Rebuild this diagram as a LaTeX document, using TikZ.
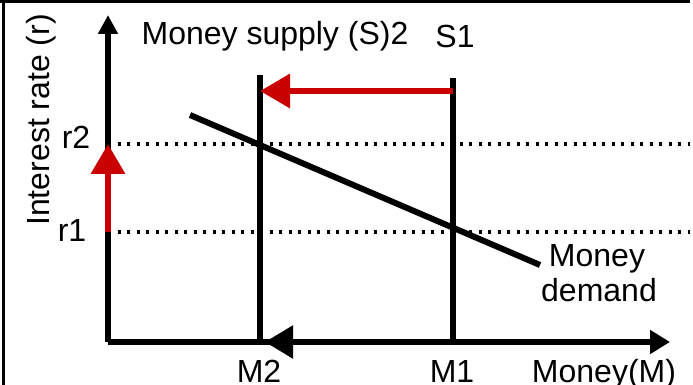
\documentclass[tikz,border=0pt]{standalone}
\usepackage{fontspec}
\setmainfont{Liberation Sans}
\usetikzlibrary{arrows.meta,positioning}

\definecolor{shiftred}{RGB}{200,0,0}

\begin{document}
\begin{tikzpicture}[x=1pt,y=1pt,>=Stealth,
  font=\fontsize{32pt}{38pt}\selectfont,
  axis/.style={line width=5.5pt},
  supply/.style={line width=6pt},
  level/.style={line width=3.3pt,dash pattern=on 3.3pt off 6.2pt},
  redshift/.style={line width=6.5pt,shiftred,-{Triangle[length=30pt,width=33pt]}},
  lbl/.style={inner sep=0pt,anchor=base}]

\useasboundingbox (0,0) rectangle (693,385);

% Define parameters
\def\Mtwo{260}
\def\Mone{453}
\def\rtwo{241}
\def\rone{153}

% frame
\draw[line width=3pt] (0,383.5) -- (690,383.5);
\draw[line width=3pt] (3.5,0) -- (3.5,385);

% ===== AXES =====
\coordinate (O) at (108,43);
\coordinate (Ytop) at (108,370);
\coordinate (Xend) at (670,43);

\draw[axis,-{Triangle[length=19pt,width=19pt]}] (O) -- (Ytop);
\draw[axis,-{Triangle[length=20pt,width=23pt]}] (O) -- (Xend);

\node[lbl,rotate=90] (ylab) at (49,265) {Interest rate (r)};
\node[lbl] (xlab) at (604,2.5) {Money(M)};

% ===== INTEREST LEVELS =====
\coordinate (r2L) at (108,\rtwo);
\coordinate (r2R) at (690,\rtwo);
\coordinate (r1L) at (108,\rone);
\coordinate (r1R) at (690,\rone);

\draw[level] (r2L) -- (r2R);
\draw[level] (r1L) -- (r1R);

\node[lbl] (r2) at (76,236) {r2};
\node[lbl] (r1) at (72,143) {r1};

% ===== MONEY SUPPLY =====
\coordinate (S2top) at (\Mtwo,310);
\coordinate (S2bot) at (\Mtwo,43);
\coordinate (S1top) at (\Mone,307);
\coordinate (S1bot) at (\Mone,43);

\draw[supply] (S2top) -- (S2bot);
\draw[supply] (S1top) -- (S1bot);

\node[lbl] (S2) at (275,340) {Money supply (S)2};
\node[lbl] (S1) at (455,337) {S1};
\node[lbl] (M2) at (259,2.5) {M2};
\node[lbl] (M1) at (452,2.5) {M1};

% ===== MONEY DEMAND =====
\coordinate (Dtop) at (190,270);
\coordinate (Dbot) at (540,120);
\draw[supply] (Dtop) -- (Dbot);

\node[lbl] (D1) at (597,118) {Money};
\node[lbl] (D2) at (599,83) {demand};

% ===== SHIFTS =====
\coordinate (redR) at (\Mone,294);
\coordinate (redL) at (\Mtwo,294);
\draw[redshift] (redR) -- (redL);
\draw[redshift] (r1L) -- (r2L);

\coordinate (mR) at (\Mone,43);
\coordinate (mL) at (265,43);
\draw[axis,-{Triangle[length=28pt,width=32pt]}] (mR) -- (mL);

\end{tikzpicture}
\end{document}
